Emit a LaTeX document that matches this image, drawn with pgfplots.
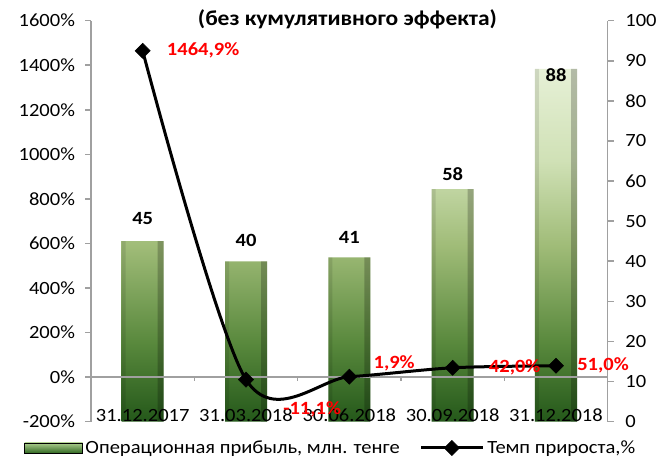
\documentclass[border=0pt]{standalone}
\usepackage{fontspec}
\setmainfont{Carlito}[FakeStretch=1.1]
\usepackage{pgfplots}
\pgfplotsset{compat=1.18}
\usepackage{pgfplotstable}

\definecolor{barA}{RGB}{36,88,26}
\definecolor{barB}{RGB}{88,136,60}
\definecolor{barC}{RGB}{160,188,120}
\definecolor{barD}{RGB}{208,225,182}
\definecolor{barE}{RGB}{230,240,214}
\definecolor{lgtop}{RGB}{170,205,140}
\definecolor{lgbot}{RGB}{50,105,35}
\definecolor{axgray}{RGB}{160,160,160}

\pgfdeclareverticalshading{barshade}{100bp}{color(0bp)=(barA); color(25bp)=(barA); color(36bp)=(barB); color(50bp)=(barC); color(62bp)=(barD); color(75bp)=(barE); color(100bp)=(barE)}

\pgfplotstableread{
x y dy
0 45 12
1 40 11
2 41 10.5
3 58 6
4 88 -10
}\bardata

\pgfplotstableread{
x y dx dy
0 1464.9 18 0
1 -11.1 27.75 -22.5
2 1.9 18 10.3
3 42.0 27 0
4 51.0 15.75 0
}\linedata

\pgfplotsset{
  /pgf/number format/assume math mode=true,
  linelegend/.style={legend image code/.code={\draw[##1, mark repeat=2, mark phase=2] plot coordinates {(0pt,0pt)(23pt,0pt)(46.5pt,0pt)};}},
  every axis/.append style={
    at={(68.25pt,27.975pt)}, anchor=south west,
    scale only axis, width=387.5pt, height=300.75pt,
    xmin=-0.5, xmax=4.5,
    axis line style={draw=axgray, line width=1.2pt},
    tick style={draw=axgray, line width=1.2pt},
    major tick length=4.5pt,
    tick align=outside,
    tick label style={font=\fontsize{14}{16}\selectfont, text=black},
  }
}

\begin{document}
\begin{tikzpicture}
\useasboundingbox (0,0) rectangle (498.75pt,344.25pt);

% right axis: bars
\begin{axis}[
  ymin=0, ymax=100,
  axis x line=none, axis y line*=right,
  ytick={0,10,...,100},
  yticklabel style={anchor=west, xshift=5.25pt},
]
\addplot[ybar, bar width=31.5pt, bar shift=0pt, draw=none, shade, shading=barshade,
  visualization depends on={\thisrow{dy} \as \dy},
  nodes near coords={\pgfmathprintnumber{\pgfplotspointmeta}},
  every node near coord/.append style={font=\bfseries\fontsize{14}{16}\selectfont, text=black, anchor=south, inner sep=0pt, yshift=\dy pt},
] table[x=x, y=y] {\bardata};
\addplot[ybar, bar width=4.5pt, bar shift=13.5pt, draw=none, fill=black, fill opacity=0.22]
  table[x=x, y=y] {\bardata};
\addplot[ybar, bar width=3pt, bar shift=-14.25pt, draw=none, fill=black, fill opacity=0.10]
  table[x=x, y=y] {\bardata};
\end{axis}

% left axis: growth rate
\begin{axis}[
  ymin=-200, ymax=1600,
  axis x line*=middle, axis y line*=left,
  ytick={-200,0,...,1600},
  yticklabel={\pgfmathprintnumber[fixed,precision=0,1000 sep={}]{\tick}\%},
  yticklabel style={anchor=east, xshift=-4pt},
  xtick={0,1,2,3,4},
  xticklabels={31.12.2017,31.03.2018,30.06.2018,30.09.2018,31.12.2018},
  xticklabel style={anchor=center, yshift=-24pt},
  minor xtick={-0.5,0.5,1.5,2.5,3.5,4.5},
  major x tick style={draw=none},
  clip=false,
  legend cell align=left,
  legend style={at={(-0.1374,-0.0656)}, anchor=west, draw=none, fill=none,
    legend columns=2, font=\fontsize{14}{16}\selectfont,
    /tikz/every even column/.append style={column sep=13pt}},
]
\addlegendimage{legend image code/.code={\shade[top color=lgtop, bottom color=lgbot] (0pt,-3.75pt) rectangle (43.5pt,3.75pt);}}
\addlegendentry{Операционная прибыль, млн. тенге}
\addplot[black, line width=2.25pt, smooth,
  mark=square*, mark size=4pt, mark options={rotate=45, line width=0.4pt, fill=black},
  linelegend,
  visualization depends on={\thisrow{dx} \as \dx},
  visualization depends on={\thisrow{dy} \as \dy},
  nodes near coords={\pgfmathprintnumber[fixed,fixed zerofill,precision=1,use comma,1000 sep={}]{\pgfplotspointmeta}\%},
  every node near coord/.append style={font=\bfseries\fontsize{14}{16}\selectfont, text=red, anchor=west, inner sep=0pt, xshift=\dx pt, yshift=\dy pt},
] table[x=x, y=y] {\linedata};
\addlegendentry{Темп прироста,\%}
\end{axis}

\node[font=\bfseries\fontsize{16}{19}\selectfont, inner sep=0pt] at (260.6pt,329.6pt) {(без кумулятивного эффекта)};
\end{tikzpicture}
\end{document}
